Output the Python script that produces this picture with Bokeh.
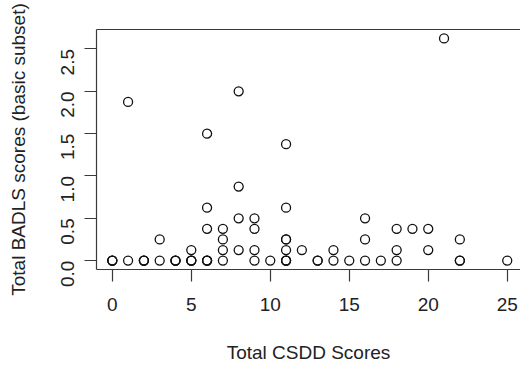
from bokeh.plotting import figure
from bokeh.models import LinearAxis, FixedTicker, NumeralTickFormatter, Range1d
from bokeh.embed import file_html
from bokeh.resources import INLINE
import math

# Data
csdd_scores = [0, 0, 0, 1, 2, 2, 2, 3, 4, 4, 4, 5, 5, 5, 6, 6, 6, 7, 9, 10, 11, 11, 11,
               13, 13, 14, 15, 16, 17, 18, 22, 22, 25,
               1, 3, 5, 6, 6, 6, 7, 7, 7, 8, 8, 8, 8, 9, 9, 9, 11, 11, 11, 11, 11,
               12, 14, 16, 16, 18, 18, 19, 20, 20, 21, 22]
badls_scores = [0.0] * 33 + [
    1.875, 0.25, 0.125, 1.5, 0.625, 0.375, 0.375, 0.25, 0.125, 2.0, 0.875, 0.5, 0.125,
    0.5, 0.375, 0.125, 1.375, 0.625, 0.25, 0.25, 0.125, 0.125, 0.125, 0.5, 0.25,
    0.375, 0.125, 0.375, 0.375, 0.125, 2.625, 0.25]
x_ticks = [0, 5, 10, 15, 20, 25]
y_ticks = [0.0, 0.5, 1.0, 1.5, 2.0, 2.5]
x_title = "Total CSDD Scores"
y_title = "Total BADLS scores (basic subset)"

FONT = "Liberation Sans"
TXT = "#222222"
LINE = "#3a3a3a"

p = figure(width=520, height=365, output_backend="svg", toolbar_location=None,
           x_range=Range1d(-1.0, 25.84), y_range=Range1d(-0.105, 2.73),
           x_axis_location=None, y_axis_location=None,
           min_border_left=96, min_border_right=0, min_border_top=29, min_border_bottom=96)
p.grid.visible = False
p.outline_line_color = None
p.background_fill_color = "white"
p.border_fill_color = "white"

def style(ax):
    ax.axis_line_color = LINE
    ax.axis_line_width = 1.2
    ax.major_tick_line_color = LINE
    ax.major_tick_line_width = 1.2
    ax.major_tick_in = 0
    ax.major_tick_out = 12
    ax.minor_tick_line_color = None
    ax.major_label_text_font = FONT
    ax.major_label_text_font_size = "19px"
    ax.major_label_text_color = TXT
    ax.axis_label_text_font = FONT
    ax.axis_label_text_font_size = "19px"
    ax.axis_label_text_font_style = "normal"
    ax.axis_label_text_color = TXT

xa = LinearAxis(ticker=FixedTicker(ticks=x_ticks), axis_label=x_title)
style(xa)
xa.major_label_standoff = 16
xa.axis_label_standoff = 28
p.add_layout(xa, "below")

ya = LinearAxis(ticker=FixedTicker(ticks=y_ticks), axis_label=y_title,
                formatter=NumeralTickFormatter(format="0.0"))
style(ya)
ya.major_label_orientation = math.pi / 2
ya.major_label_standoff = 17
ya.axis_label_standoff = 23
p.add_layout(ya, "left")

top = LinearAxis(ticker=FixedTicker(ticks=[]))
top.axis_line_color = LINE
top.axis_line_width = 1.2
top.major_tick_line_color = None
top.minor_tick_line_color = None
top.major_label_text_font_size = "0px"
p.add_layout(top, "above")

p.scatter(csdd_scores, badls_scores, marker="circle", size=9,
          fill_color=None, line_color="#111111", line_width=1.3)

open("out.html", "w").write(file_html(p, INLINE))
